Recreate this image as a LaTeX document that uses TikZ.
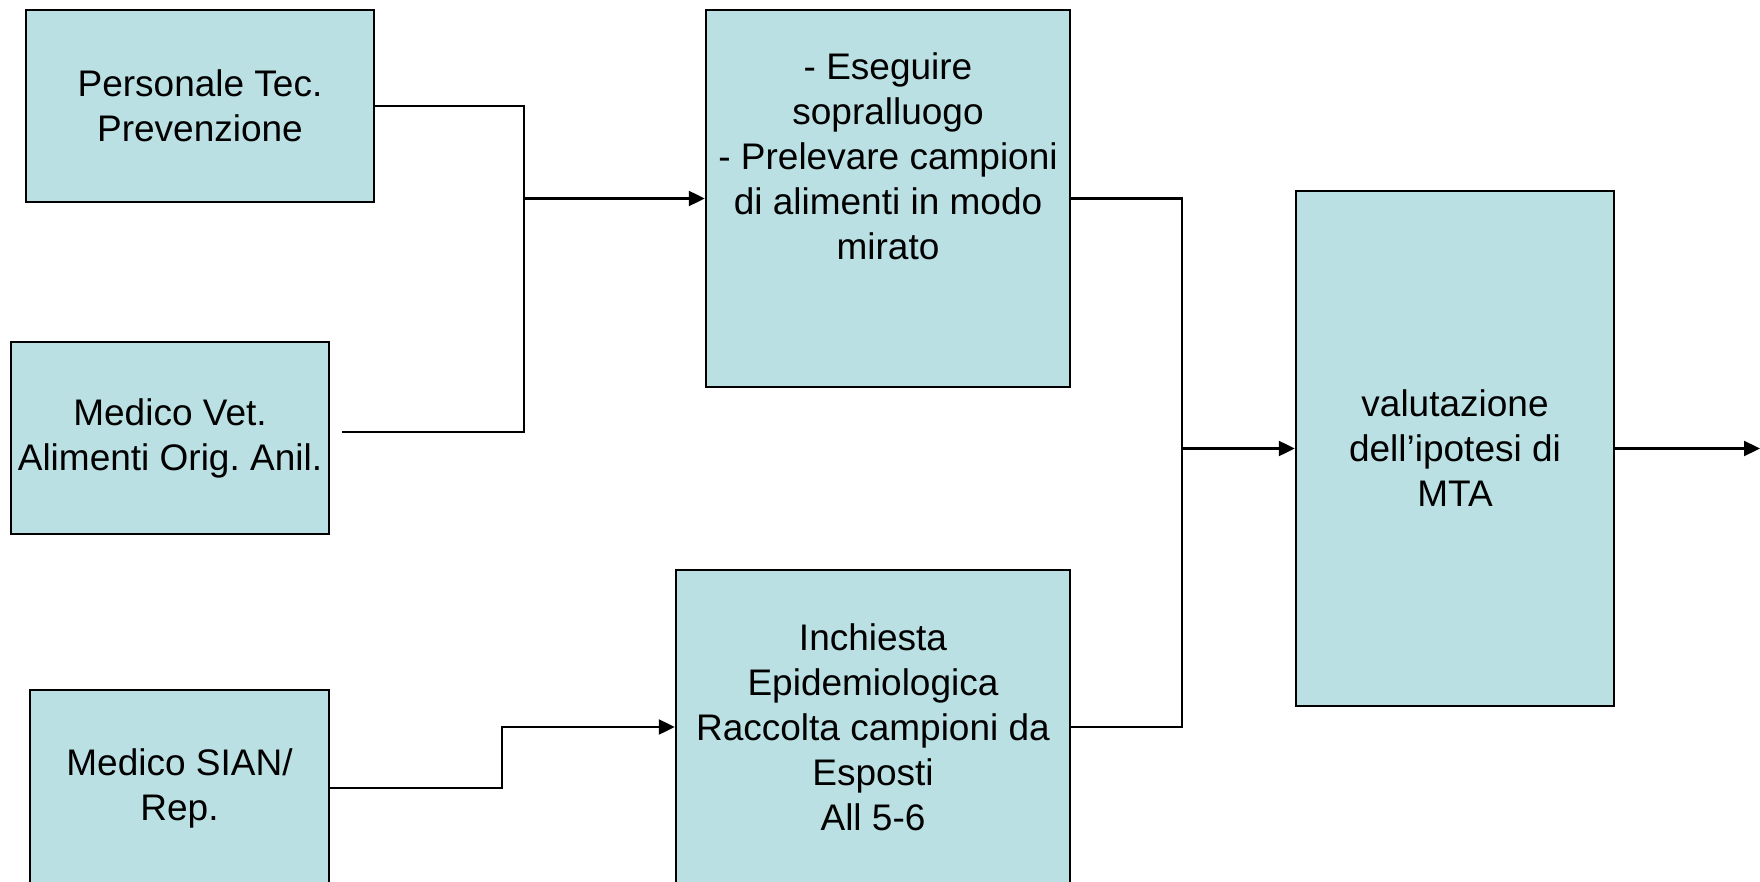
\documentclass[tikz,border=0pt]{standalone}
\usepackage{fontspec}
\setmainfont{Liberation Sans}
\usetikzlibrary{arrows.meta}
\definecolor{boxfill}{RGB}{186,224,227}
\frenchspacing
\begin{document}
\begin{tikzpicture}[x=1pt,y=-1pt,
  box/.style={draw=black,line width=2.4pt,fill=boxfill,inner sep=0pt,align=center,
    font=\fontsize{37pt}{45pt}\selectfont},
  txt/.style={inner sep=0pt,align=center,font=\fontsize{37pt}{45pt}\selectfont},
  conn/.style={line width=2.2pt},
  arr/.style={line width=2.2pt,-{Triangle[length=16pt,width=15pt]}}]
\useasboundingbox (0,0) rectangle (1760,882);
\clip (0,0) rectangle (1760,882);
\node[box,minimum width=348pt,minimum height=192pt] (A) at (200,106) {Personale Tec.\\Prevenzione};
\node[box,minimum width=318pt,minimum height=192pt] (B) at (170,438) {Medico Vet.\\Alimenti Orig. Anil.};
\node[box,minimum width=299pt,minimum height=196pt] (D) at (179.5,788) {Medico SIAN/\\Rep.};
\node[box,minimum width=364pt,minimum height=377pt] (C) at (888,198.5) {};
\node[txt] (Ct) at (888,156) {- Eseguire\\sopralluogo\\- Prelevare campioni\\di alimenti in modo\\mirato};
\node[box,minimum width=394pt,minimum height=314pt] (E) at (873,727) {Inchiesta\\Epidemiologica\\Raccolta campioni da\\Esposti\\All 5-6};
\node[box,minimum width=318pt,minimum height=515pt] (F) at (1455,448.5) {valutazione\\dell’ipotesi di\\MTA};
\coordinate (bs) at (342,432);
\coordinate (j1) at (524,432);
\coordinate (k) at (502,727);
\coordinate (m) at (1182,448.5);
\coordinate (out) at (1760,448.5);
\draw[conn] (A.east) -| (j1) -- (bs);
\draw[arr] (j1 |- C.west) -- (C.west);
\draw[arr] (D.east) -| (k) -- (E.west);
\draw[conn] (C.east) -| (m) |- (E.east);
\draw[arr] (m) -- (F.west);
\draw[arr] (F.east) -- (out);
\end{tikzpicture}
\end{document}
